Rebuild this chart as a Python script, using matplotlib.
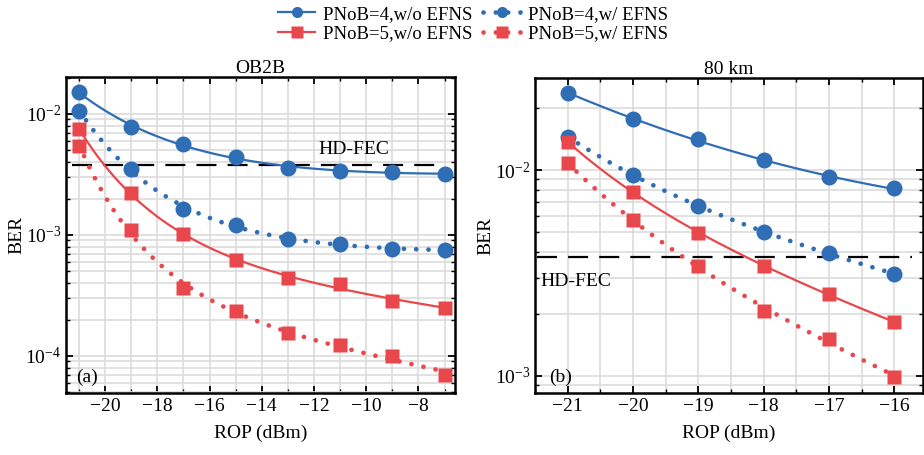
import numpy as np
import matplotlib
matplotlib.use("Agg")
import matplotlib.pyplot as plt
from matplotlib.ticker import MultipleLocator, LogLocator, NullFormatter
from matplotlib.lines import Line2D

plt.rcParams['font.family'] = ['Liberation Serif', 'DejaVu Serif']
plt.rcParams['mathtext.fontset'] = 'stix'

# ---------------- data ----------------
rop_a = [-21, -19, -17, -15, -13, -11, -9, -7]
b4_wo_a = [0.0151, 0.00785, 0.00565, 0.00438, 0.00356, 0.0034, 0.00332, 0.00319]
b4_w_a = [0.01065, 0.00351, 0.00164, 0.0012, 0.00093, 0.00084, 0.00077, 0.00075]
b5_wo_a = [0.00747, 0.00221, 0.00101, 0.00062, 0.000438, 0.000396, 0.000287, 0.000248]
b5_w_a = [0.00547, 0.00109, 0.000363, 0.000235, 0.000154, 0.000122, 0.0001, 0.00007]

rop_b = [-21, -20, -19, -18, -17, -16]
b4_wo_b = [0.0238, 0.0176, 0.0141, 0.0112, 0.0092, 0.00815]
b4_w_b = [0.01452, 0.00946, 0.00671, 0.00499, 0.00394, 0.00313]
b5_wo_b = [0.0137, 0.00782, 0.00497, 0.00342, 0.0025, 0.00182]
b5_w_b = [0.0108, 0.00571, 0.00342, 0.00207, 0.00151, 0.00099]

hd_fec = 3.8e-3
labels = ['PNoB=4,w/o EFNS', 'PNoB=4,w/ EFNS', 'PNoB=5,w/o EFNS', 'PNoB=5,w/ EFNS']

BLUE = '#2F6DB5'
RED = '#E8474C'
GRID = '#DCDCDC'
FS = 14


def fit_curve(x, y):
    """Smooth least-squares fit in log space: a + b*x + c*exp(-(x-x0)/t)."""
    x = np.asarray(x, float)
    ly = np.log10(np.asarray(y, float))
    x0 = x.min()
    best = None
    for t in np.linspace(0.4, 20, 200):
        A = np.column_stack([np.ones_like(x), x, np.exp(-(x - x0) / t)])
        coef, *_ = np.linalg.lstsq(A, ly, rcond=None)
        r = np.sum((A @ coef - ly) ** 2)
        if best is None or r < best[0]:
            best = (r, t, coef)
    _, t, coef = best
    xn = np.linspace(x.min(), x.max(), 300)
    An = np.column_stack([np.ones_like(xn), xn, np.exp(-(xn - x0) / t)])
    return xn, 10 ** (An @ coef)


DOT = dict(linestyle=(0, (0.01, 2.6)), lw=3.4, dash_capstyle='round')


def draw(ax, x, series):
    styles = [(BLUE, 'o', 11.5, 'solid'), (BLUE, 'o', 11.5, 'dot'),
              (RED, 's', 10, 'solid'), (RED, 's', 10, 'dot')]
    for (c, mk, ms, ls), y in zip(styles, series):
        xs, ys = fit_curve(x, y)
        if ls == 'solid':
            ax.plot(xs, ys, color=c, lw=1.6, zorder=3)
        else:
            ax.plot(xs, ys, color=c, zorder=3, **DOT)
        ax.plot(x, y, linestyle='none', marker=mk, ms=ms, color=c, mec='none', zorder=4)


def style(ax):
    ax.set_yscale('log')
    ax.grid(True, which='both', color=GRID, lw=1.2, zorder=0)
    ax.set_axisbelow(True)
    ax.tick_params(which='both', direction='in', top=True, right=True, labelsize=FS)
    ax.tick_params(which='major', length=5, width=1.3)
    ax.tick_params(which='minor', length=3, width=1.0)
    ax.yaxis.set_major_locator(LogLocator(base=10, numticks=10))
    ax.yaxis.set_minor_locator(LogLocator(base=10, subs=np.arange(2, 10), numticks=10))
    ax.yaxis.set_minor_formatter(NullFormatter())
    for s in ax.spines.values():
        s.set_linewidth(1.8)
    ax.set_xlabel('ROP (dBm)', fontsize=FS, labelpad=7)
    ax.set_ylabel('BER', fontsize=FS, labelpad=0)


fig = plt.figure(figsize=(9.24, 4.55), dpi=100)
ax1 = fig.add_axes([0.0714, 0.1363, 0.4210, 0.6945])
ax2 = fig.add_axes([0.579, 0.1363, 0.4199, 0.6923])

# panel (a)
draw(ax1, rop_a, [b4_wo_a, b4_w_a, b5_wo_a, b5_w_a])
style(ax1)
ax1.set_xlim(-21.5, -6.6)
ax1.set_ylim(4.94e-5, 2.02e-2)
ax1.xaxis.set_major_locator(MultipleLocator(2))
ax1.xaxis.set_minor_locator(MultipleLocator(1))
ax1.axhline(hd_fec, xmin=0.015, xmax=0.975, color='black', lw=1.6, dashes=(9, 5), zorder=2)
ax1.text(-11.85, 5.1e-3, 'HD-FEC', fontsize=FS, va='center', ha='left')
ax1.text(0.026, 0.05, '(a)', transform=ax1.transAxes, fontsize=FS, va='center', ha='left')
ax1.set_title('OB2B', fontsize=FS, pad=3)

# panel (b)
draw(ax2, rop_b, [b4_wo_b, b4_w_b, b5_wo_b, b5_w_b])
style(ax2)
ax2.set_xlim(-21.5, -15.56)
ax2.set_ylim(8.26e-4, 2.8e-2)
ax2.xaxis.set_major_locator(MultipleLocator(1))
ax2.xaxis.set_minor_locator(MultipleLocator(0.5))
ax2.axhline(hd_fec, xmin=0.005, xmax=0.972, color='black', lw=1.6, dashes=(9, 5), zorder=2)
ax2.text(-21.42, 2.89e-3, 'HD-FEC', fontsize=FS, va='center', ha='left')
ax2.text(0.036, 0.05, '(b)', transform=ax2.transAxes, fontsize=FS, va='center', ha='left')
ax2.set_title('80 km', fontsize=FS, pad=3)

handles = [
    Line2D([], [], color=BLUE, lw=1.6, marker='o', ms=8, mec='none'),
    Line2D([], [], color=BLUE, marker='o', ms=8, mec='none', **DOT),
    Line2D([], [], color=RED, lw=1.6, marker='s', ms=8, mec='none'),
    Line2D([], [], color=RED, marker='s', ms=8, mec='none', **DOT),
]
order = [0, 2, 1, 3]
fig.legend([handles[i] for i in order], [labels[i] for i in order], ncol=2,
           loc='upper center', bbox_to_anchor=(0.512, 1.025), frameon=False,
           fontsize=13.5, handlelength=2.0, handletextpad=0.4, columnspacing=0.6,
           labelspacing=0.15)

fig.savefig('out.png', dpi=100)
